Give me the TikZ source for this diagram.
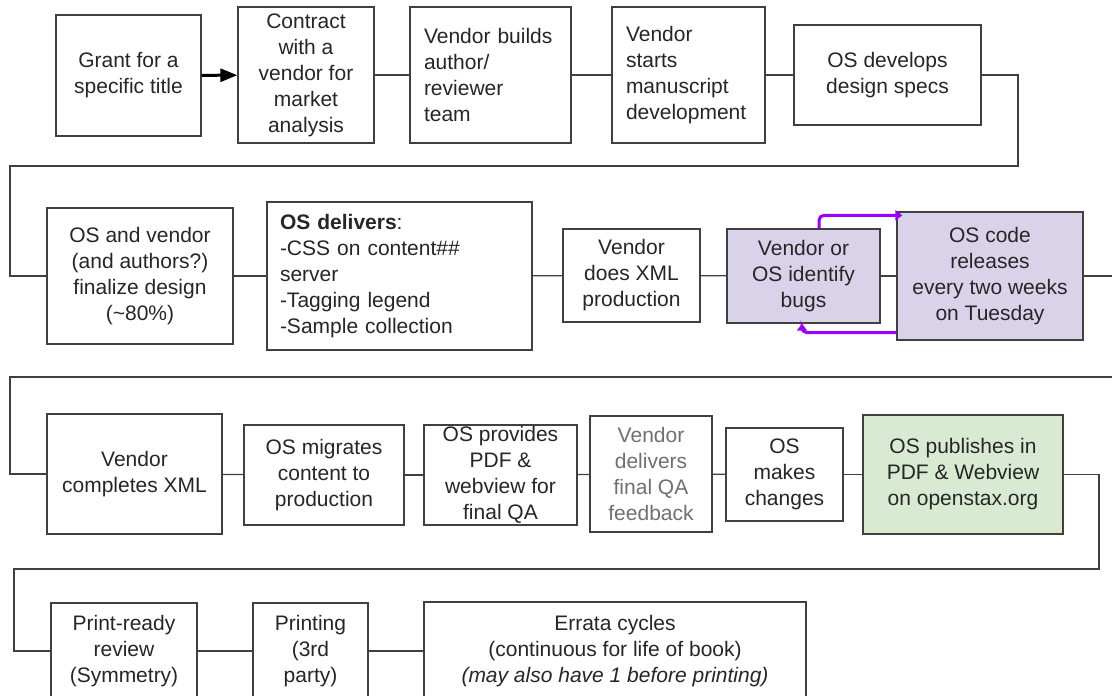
\documentclass[tikz,border=0pt]{standalone}
\usepackage{fontspec}
\setmainfont{Liberation Sans}
\usetikzlibrary{arrows.meta}
\definecolor{edgec}{HTML}{404040}
\definecolor{lav}{HTML}{D9D2E9}
\definecolor{grn}{HTML}{D9EAD3}
\definecolor{purp}{HTML}{9900FF}
\definecolor{greytext}{HTML}{707070}
\begin{document}
\begin{tikzpicture}[x=1pt,y=1pt,
  box/.style={draw=edgec, line width=1.3pt, align=center, inner sep=1pt,
    font=\fontsize{21}{26}\selectfont, text=black!85},
  lbox/.style={box, align=left, inner xsep=14pt},
  link/.style={draw=edgec, line width=1.3pt},
  fb/.style={draw=purp, line width=3pt, rounded corners=5pt, -{Triangle[length=7pt,width=10pt]}},
]
\clip (0,0) rectangle (1112,-696);
\fill[white] (0,0) rectangle (1112,-696);

% Row 1
\node[box, minimum width=145pt, minimum height=121pt] (g1) at (128.5,-75.5) {Grant for a\\specific title};
\node[box, minimum width=136pt, minimum height=136pt] (g2) at (306,-75) {Contract\\with a\\vendor for\\market\\analysis};
\node[lbox, text width=133pt, minimum height=136pt] (g3) at (490.5,-75) {Vendor builds\\author/\\reviewer\\team};
\node[lbox, text width=125pt, minimum height=136pt] (g4) at (688.5,-75) {Vendor\\starts\\manuscript\\development};
\node[box, minimum width=187pt, minimum height=100pt] (g5) at (887.5,-75) {OS develops\\design specs};

% Row 2
\node[box, minimum width=186pt, minimum height=136pt] (h1) at (140,-276) {OS and vendor\\(and authors?)\\finalize design\\(\textasciitilde80\%)};
\node[lbox, inner xsep=13pt, text width=239pt, minimum height=148pt] (h2) at (399.5,-276) {\textbf{OS delivers}:\\-CSS on content\#\#\\server\\-Tagging legend\\-Sample collection};
\node[box, minimum width=137pt, minimum height=93pt] (h3) at (631.5,-275.5) {Vendor\\does XML\\production};
\node[box, fill=lav, minimum width=153pt, minimum height=94pt] (h4) at (803.5,-276) {Vendor or\\OS identify\\bugs};
\node[box, fill=lav, minimum width=186pt, minimum height=128pt] (h5) at (990,-276) {OS code\\releases\\every two weeks\\on Tuesday};

% Row 3
\node[box, minimum width=175pt, minimum height=120pt] (k1) at (134.5,-474) {Vendor\\completes XML};
\node[box, minimum width=160pt, minimum height=100pt] (k2) at (324,-475) {OS migrates\\content to\\production};
\node[box, inner ysep=0pt, minimum width=153pt, minimum height=100pt] (k3) at (500.5,-475) {OS provides\\PDF \&\\webview for\\final QA};
\node[box, text=greytext, minimum width=122pt, minimum height=116pt] (k4) at (651,-474) {Vendor\\delivers\\final QA\\feedback};
\node[box, minimum width=117pt, minimum height=93pt] (k5) at (784.5,-474.5) {OS\\makes\\changes};
\node[box, fill=grn, minimum width=200pt, minimum height=119pt] (k6) at (963,-474.5) {OS publishes in\\PDF \& Webview\\on openstax.org};

% Row 4
\node[box, minimum width=146pt, minimum height=96pt] (m1) at (124,-651) {Print-ready\\review\\(Symmetry)};
\node[box, minimum width=115pt, minimum height=96pt] (m2) at (310.5,-651) {Printing\\(3rd\\party)};
\node[box, minimum width=382pt, minimum height=98pt] (m3) at (615,-651) {Errata cycles\\(continuous for life of book)\\\textit{(may also have 1 before printing)}};

% turn points
\coordinate (t1) at (1018,-166);
\coordinate (t2) at (10,-166);
\coordinate (t3) at (1140,-377);
\coordinate (t4) at (10,-377);
\coordinate (t5) at (1099,-569);
\coordinate (t6) at (14,-569);

% connectors
\draw[line width=3pt, black, -{Triangle[length=17pt,width=13pt]}] (g1) -- (g2);
\draw[link] (g2) -- (g3);
\draw[link] (g3) -- (g4);
\draw[link] (g4) -- (g5);
\draw[link] (g5.east) -| (t1) -- (t2) |- (h1.west);
\draw[link] (h1) -- (h2);
\draw[link] (h2) -- (h3);
\draw[link] (h3) -- (h4);
\draw[link] (h4) -- (h5);
\draw[link] (h5.east) -| (t3) -- (t4) |- (k1.west);
\draw[link] (k1) -- (k2);
\draw[link] (k2) -- (k3);
\draw[link] (k3) -- (k4);
\draw[link] (k4) -- (k5);
\draw[link] (k5) -- (k6);
\draw[link] (k6.east) -| (t5) -- (t6) |- (m1.west);
\draw[link] (m1) -- (m2);
\draw[link] (m2) -- (m3);

% feedback loop
\draw[fb] ([xshift=15.5pt]h4.north) |- ([yshift=-4pt,xshift=6pt]h5.north west);
\draw[fb] ([yshift=8pt]h5.south west) -| ([xshift=-1.5pt]h4.south);
\end{tikzpicture}
\end{document}
